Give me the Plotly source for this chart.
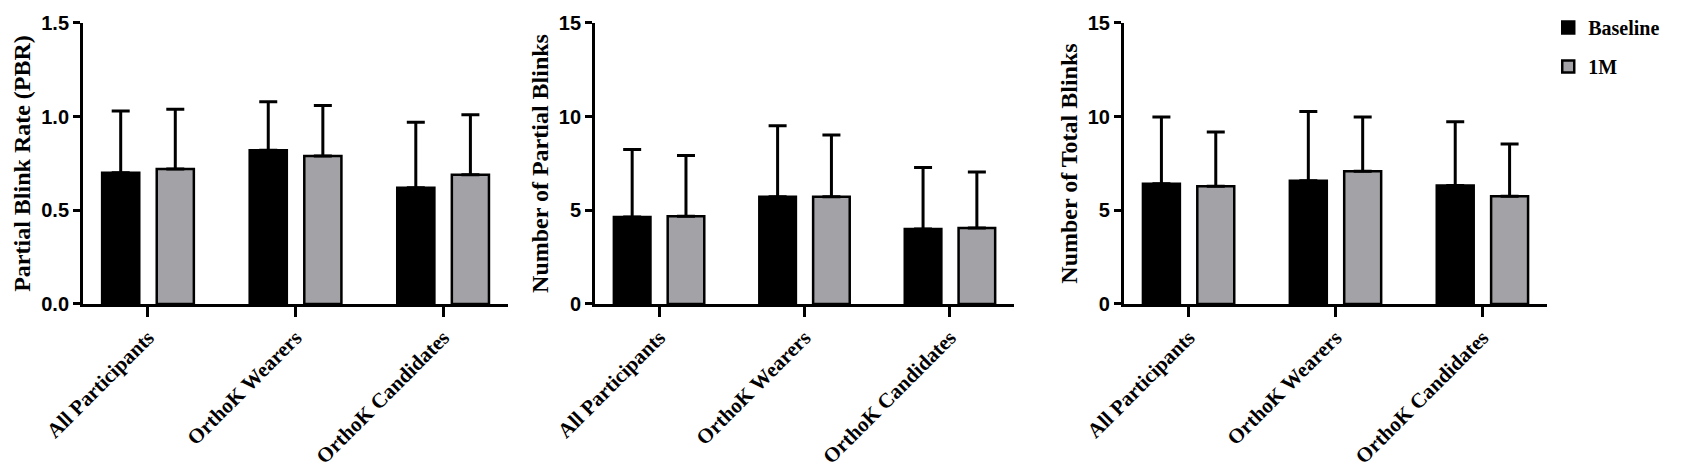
import plotly.graph_objects as go
from plotly.subplots import make_subplots

# groups on the x axis
groups = ['All Participants', 'OrthoK Wearers', 'OrthoK Candidates']

# partial blink rate (mean, SD)
pbr_base = [0.70, 0.82, 0.62]
pbr_base_sd = [0.33, 0.26, 0.35]
pbr_1m = [0.72, 0.79, 0.69]
pbr_1m_sd = [0.32, 0.27, 0.32]

# number of partial blinks
npb_base = [4.64, 5.73, 4.00]
npb_base_sd = [3.60, 3.79, 3.28]
npb_1m = [4.68, 5.73, 4.06]
npb_1m_sd = [3.24, 3.29, 2.99]

# number of total blinks
ntb_base = [6.42, 6.58, 6.32]
ntb_base_sd = [3.56, 3.70, 3.41]
ntb_1m = [6.28, 7.08, 5.75]
ntb_1m_sd = [2.90, 2.90, 2.79]

panels = [
    ('Partial Blink Rate (PBR)', pbr_base, pbr_base_sd, pbr_1m, pbr_1m_sd, 1.5, 0.5),
    ('Number of Partial Blinks', npb_base, npb_base_sd, npb_1m, npb_1m_sd, 15, 5),
    ('Number of Total Blinks', ntb_base, ntb_base_sd, ntb_1m, ntb_1m_sd, 15, 5),
]

serif = 'Times New Roman, Liberation Serif, serif'
sans = 'Arial, Liberation Sans, sans-serif'

fig = make_subplots(rows=1, cols=3)

for i, (title, b, bsd, m, msd, ymax, dtick) in enumerate(panels, start=1):
    fig.add_trace(go.Bar(x=groups, y=b, name='Baseline', showlegend=(i == 1), legendgroup='base',
                         marker=dict(color='black', line=dict(color='black', width=2.5)),
                         error_y=dict(type='data', array=bsd, arrayminus=[0] * 3, symmetric=False,
                                      color='black', thickness=3, width=9)),
                  row=1, col=i)
    fig.add_trace(go.Bar(x=groups, y=m, name='1M', showlegend=(i == 1), legendgroup='1m',
                         marker=dict(color='#a3a3a7', line=dict(color='black', width=2.5)),
                         error_y=dict(type='data', array=msd, arrayminus=[0] * 3, symmetric=False,
                                      color='black', thickness=3, width=9)),
                  row=1, col=i)
    fig.update_yaxes(range=[0, ymax], dtick=dtick, tickformat='.1f' if ymax < 5 else 'd',
                     automargin=False,
                     showgrid=False, zeroline=False, showline=True, linecolor='black', linewidth=3,
                     ticks='outside', ticklen=7, tickwidth=3, tickcolor='black',
                     tickfont=dict(family=sans, size=20, color='black', weight='bold'),
                     title=dict(text=title, standoff=4,
                                font=dict(family=serif, size=24, color='black', weight='bold')),
                     row=1, col=i)
    fig.update_xaxes(range=[-0.44, 2.44], automargin=False,
                     showgrid=False, zeroline=False, showline=True,
                     linecolor='black', linewidth=3, ticks='outside', ticklen=10, tickwidth=3,
                     tickcolor='black', tickangle=-45,
                     tickfont=dict(family=serif, size=21, color='black', weight='bold'),
                     row=1, col=i)

# panel positions
doms = [[0.0445, 0.2964], [0.348, 0.5963], [0.6615, 0.9123]]
for i, d in enumerate(doms, start=1):
    fig.layout['xaxis' if i == 1 else 'xaxis%d' % i].domain = d
    fig.layout['yaxis' if i == 1 else 'yaxis%d' % i].domain = [0.3662, 0.9679]

fig.update_layout(
    width=1687, height=467,
    margin=dict(l=0, r=0, t=0, b=0, autoexpand=False),
    barmode='group', bargap=0.26, bargroupgap=0.32,
    plot_bgcolor='white', paper_bgcolor='white',
    legend=dict(x=0.913, y=1.0, xanchor='left', yanchor='top',
                font=dict(family=serif, size=20, color='black', weight='bold'),
                itemwidth=30, tracegroupgap=10),
)

fig.write_html("out.html")
